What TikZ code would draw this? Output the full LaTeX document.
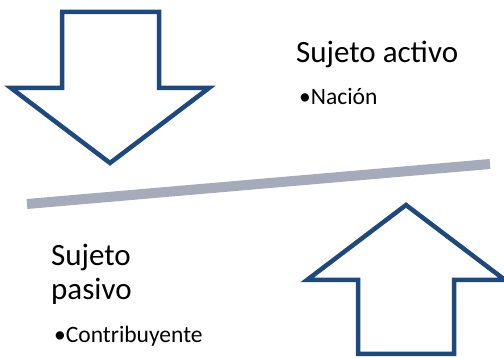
\documentclass[tikz,border=0pt]{standalone}
\usepackage{fontspec}
\setmainfont{Carlito}
\usepackage{tikz}
\definecolor{azulflecha}{RGB}{31,73,125}
\definecolor{grisbarra}{RGB}{165,171,186}
\tikzset{flecha/.style={draw=azulflecha,line width=4.5pt,fill=white,line join=miter},
  titulo/.style={anchor=base west,inner sep=0pt,font=\fontsize{31}{37}\selectfont},
  vineta/.style={anchor=base west,inner sep=0pt,font=\fontsize{23.5}{28}\selectfont}}

\begin{document}
\begin{tikzpicture}[x=1pt,y=-1pt]
       \useasboundingbox(0,0)rectangle(504,358);
       \coordinate(A1)at(62,12);
       \coordinate(A2)at(159,12);
       \coordinate(A3)at(159,88);
       \coordinate(A4)at(209,88);
       \coordinate(A5)at(110,163);
       \coordinate(A6)at(11,88);
       \coordinate(A7)at(62,88);
       \draw[flecha](A1)--(A2)--(A3)--(A4)--(A5)--(A6)--(A7)--cycle;
       \coordinate(B1)at(358,354);
       \coordinate(B2)at(454,354);
       \coordinate(B3)at(454,280);
       \coordinate(B4)at(505,280);
       \coordinate(B5)at(406,205);
       \coordinate(B6)at(307,280);
       \coordinate(B7)at(358,280);
       \draw[flecha](B1)--(B2)--(B3)--(B4)--(B5)--(B6)--(B7)--cycle;
       \coordinate(L1)at(27,204);
       \coordinate(L2)at(490,164);
       \draw[grisbarra,line width=10pt](L1)--(L2);
       \node[titulo](activo)at(296,63){Sujeto activo};
       \node[vineta](nacion)at(299,105){•Nación};
       \node[titulo](sujeto)at(51,266){Sujeto};
       \node[titulo](pasivo)at(51,300){pasivo};
       \node[vineta](contrib)at(54,343){•Contribuyente};
      \end{tikzpicture}
\end{document}
